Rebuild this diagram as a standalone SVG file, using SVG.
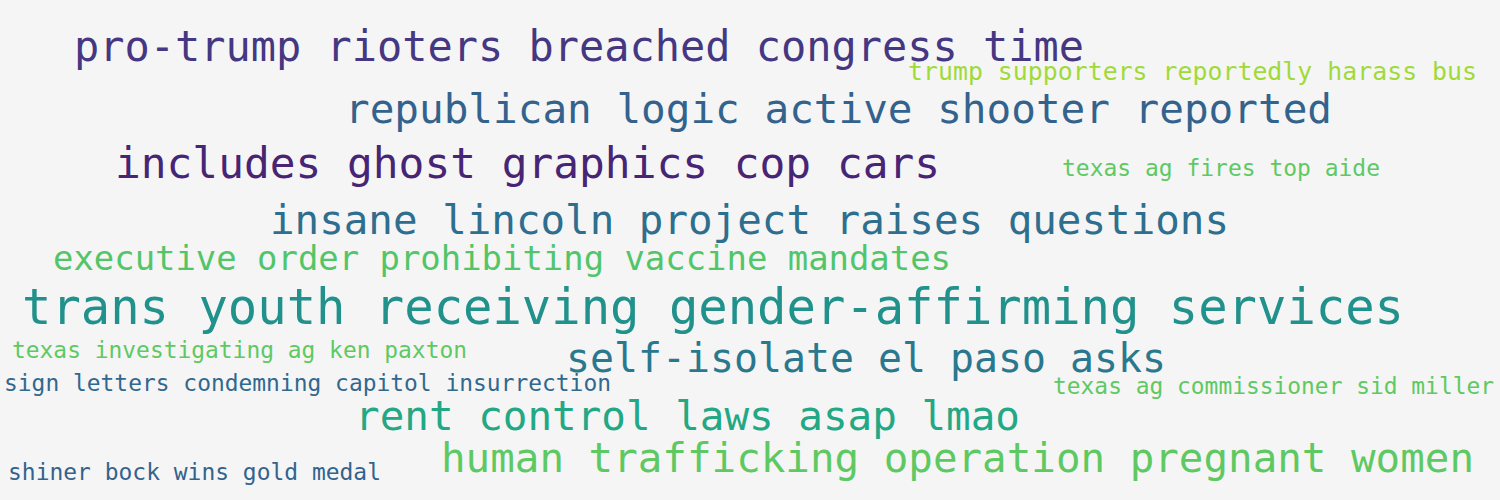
<svg xmlns="http://www.w3.org/2000/svg" width="1500" height="500" viewBox="0 0 1500 500">
<style>
text{font-family:"DejaVu Sans Mono","Liberation Mono",monospace;}
</style>
<rect x="0" y="0" width="1500" height="500" fill="#f5f5f5"/>
<g id="w1"><text x="74" y="61" font-size="43" fill="#453781" textLength="1010" lengthAdjust="spacingAndGlyphs">pro-trump rioters breached congress time</text></g>
<g id="w2"><text x="908" y="80" font-size="25" fill="#a0da39" textLength="569" lengthAdjust="spacingAndGlyphs">trump supporters reportedly harass bus</text></g>
<g id="w3"><text x="345" y="123" font-size="41" fill="#33638d" textLength="987" lengthAdjust="spacingAndGlyphs">republican logic active shooter reported</text></g>
<g id="w4"><text x="115" y="178" font-size="43" fill="#482475" textLength="825" lengthAdjust="spacingAndGlyphs">includes ghost graphics cop cars</text></g>
<g id="w5"><text x="1062" y="176" font-size="23" fill="#5ec962" textLength="318" lengthAdjust="spacingAndGlyphs">texas ag fires top aide</text></g>
<g id="w6"><text x="270" y="234" font-size="41" fill="#2e6e8e" textLength="959" lengthAdjust="spacingAndGlyphs">insane lincoln project raises questions</text></g>
<g id="w7"><text x="53" y="270" font-size="34" fill="#52c569" textLength="898" lengthAdjust="spacingAndGlyphs">executive order prohibiting vaccine mandates</text></g>
<g id="w8"><text x="22" y="324" font-size="49" fill="#21918c" textLength="1382" lengthAdjust="spacingAndGlyphs">trans youth receiving gender-affirming services</text></g>
<g id="w9"><text x="12" y="358" font-size="23" fill="#5ec962" textLength="455" lengthAdjust="spacingAndGlyphs">texas investigating ag ken paxton</text></g>
<g id="w10"><text x="566" y="372" font-size="40" fill="#2a788e" textLength="600" lengthAdjust="spacingAndGlyphs">self-isolate el paso asks</text></g>
<g id="w11"><text x="4" y="391" font-size="23" fill="#31688e" textLength="607" lengthAdjust="spacingAndGlyphs">sign letters condemning capitol insurrection</text></g>
<g id="w12"><text x="1053" y="394" font-size="23" fill="#5ec962" textLength="441" lengthAdjust="spacingAndGlyphs">texas ag commissioner sid miller</text></g>
<g id="w13"><text x="355" y="430" font-size="41" fill="#22a884" textLength="665" lengthAdjust="spacingAndGlyphs">rent control laws asap lmao</text></g>
<g id="w14"><text x="441" y="472" font-size="41" fill="#5ec962" textLength="1033" lengthAdjust="spacingAndGlyphs">human trafficking operation pregnant women</text></g>
<g id="w15"><text x="8" y="480" font-size="23" fill="#33638d" textLength="373" lengthAdjust="spacingAndGlyphs">shiner bock wins gold medal</text></g>
</svg>
